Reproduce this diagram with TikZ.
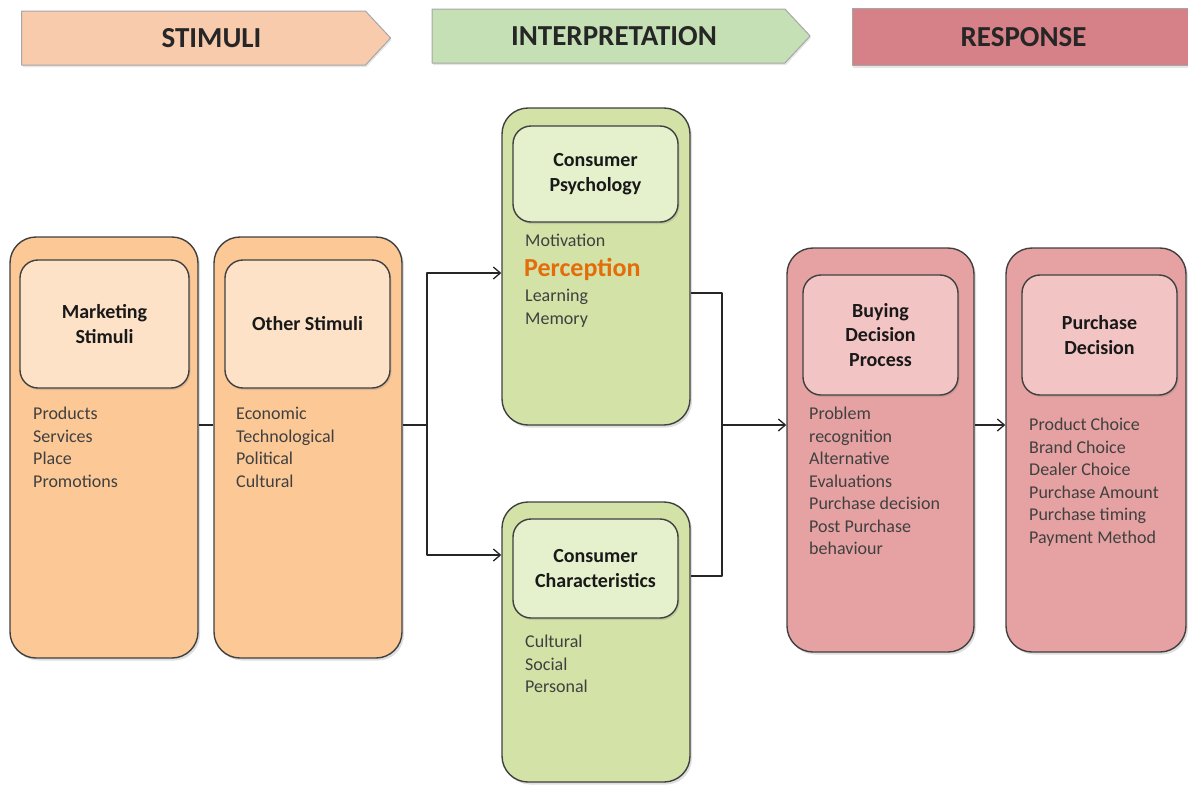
\documentclass[tikz,border=0pt]{standalone}
\usepackage{fontspec}
\setmainfont{Carlito}
\usetikzlibrary{shapes.symbols,arrows.meta,shadows}

\definecolor{stimhead}{HTML}{F8CBAD}
\definecolor{interphead}{HTML}{C5E0B4}
\definecolor{resphead}{HTML}{D68087}
\definecolor{stimout}{HTML}{FCC996}
\definecolor{stimin}{HTML}{FDE2C8}
\definecolor{interpout}{HTML}{D3E2A6}
\definecolor{interpin}{HTML}{E5F0CD}
\definecolor{respout}{HTML}{E6A2A2}
\definecolor{respin}{HTML}{F3C4C4}
\definecolor{focus}{HTML}{E46C0A}

\tikzset{
  headarrow/.style={signal, signal to=east, signal pointer angle=94, draw=gray!70, line width=1pt,
    minimum height=54pt, inner sep=0pt, font=\fontsize{29}{31}\selectfont\bfseries, text=black!85,
    drop shadow={opacity=0.2, shadow xshift=1pt, shadow yshift=-2pt}},
  outerbox/.style={draw=black!75, line width=1.4pt, rounded corners=26pt, inner sep=0pt,
    drop shadow={opacity=0.25, shadow xshift=2pt, shadow yshift=-2.5pt}},
  innerbox/.style={draw=black!75, line width=1.4pt, rounded corners=18pt, inner sep=0pt, align=center,
    font=\fontsize{20}{24.5}\selectfont\bfseries, text=black!90,
    drop shadow={opacity=0.25, shadow xshift=1.5pt, shadow yshift=-2pt}},
  itemlist/.style={anchor=north west, align=left, inner sep=0pt, font=\fontsize{18}{22.5}\selectfont, text=black!75},
  link/.style={draw=black!85, line width=1.3pt},
}

\begin{document}
\begin{tikzpicture}[x=1pt, y=-1pt, >={Straight Barb[length=7pt,width=12pt]}, line join=round]
  \useasboundingbox (0,0) rectangle (1188,785);
  % header arrows
  \node[headarrow, fill=stimhead, minimum width=369pt] (stimhead) at (193.5,38) {\hspace*{36pt}STIMULI};
  \node[headarrow, fill=interphead, minimum width=378pt] (interphead) at (608.5,36) {\hspace*{11pt}INTERPRETATION};
  \node[draw=gray!70, line width=1pt, fill=resphead, minimum width=343pt, minimum height=57pt,
    inner sep=0pt, font=\fontsize{29}{31}\selectfont\bfseries, text=black!85,
    drop shadow={opacity=0.2, shadow xshift=1pt, shadow yshift=-2pt}] (resphead) at (1023.5,37) {RESPONSE};

  % helper points for the connectors
  \coordinate (mid) at (0,425);
  \coordinate (splitL) at (427,425);
  \coordinate (joinR) at (722,425);

  % stimuli
  \node[outerbox, fill=stimout, minimum width=188pt, minimum height=421pt] (ms) at (104,447.5) {};
  \node[outerbox, fill=stimout, minimum width=188pt, minimum height=421pt] (os) at (308,447.5) {};
  \node[innerbox, fill=stimin, minimum width=169pt, minimum height=128pt] (msi) at (104.5,324) {Marketing\\Stimuli};
  \node[innerbox, fill=stimin, minimum width=165pt, minimum height=128pt] (osi) at (307.5,324) {Other Stimuli};
  \node[itemlist] (mslist) at (33,407) {Products\\Services\\Place\\Promotions};
  \node[itemlist] (oslist) at (236,407) {Economic\\Technological\\Political\\Cultural};

  % interpretation
  \node[outerbox, fill=interpout, minimum width=188pt, minimum height=317pt] (cp) at (596,266.5) {};
  \node[outerbox, fill=interpout, minimum width=188pt, minimum height=280pt] (cc) at (596,642) {};
  \node[innerbox, fill=interpin, minimum width=165pt, minimum height=96pt] (cpi) at (595.5,174) {Consumer\\Psychology};
  \node[innerbox, fill=interpin, minimum width=165pt, minimum height=99pt] (cci) at (595.5,568.5) {Consumer\\Characteristics};
  \node[itemlist] (cplist) at (525,234) {Motivation};
  \node[itemlist, font=\fontsize{26}{28}\selectfont\bfseries, text=focus] (cpfocus) at (524,258) {Perception};
  \node[itemlist] (cplist2) at (525,289) {Learning\\Memory};
  \node[itemlist] (cclist) at (525,635) {Cultural\\Social\\Personal};

  % response
  \node[outerbox, fill=respout, minimum width=187pt, minimum height=404pt] (bd) at (880.5,450) {};
  \node[outerbox, fill=respout, minimum width=180pt, minimum height=404pt] (pd) at (1096,450) {};
  \node[innerbox, fill=respin, minimum width=155pt, minimum height=120pt] (bdi) at (880.5,335) {Buying\\Decision\\Process};
  \node[innerbox, fill=respin, minimum width=155pt, minimum height=120pt] (pdi) at (1099.5,335) {Purchase\\Decision};
  \node[itemlist] (bdlist) at (809,407) {Problem\\recognition\\Alternative\\Evaluations\\Purchase decision\\Post Purchase\\behaviour};
  \node[itemlist] (pdlist) at (1029,418) {Product Choice\\Brand Choice\\Dealer Choice\\Purchase Amount\\Purchase timing\\Payment Method};

  % connectors
  \draw[link] (ms.east |- mid) -- (os.west |- mid);
  \draw[link] (os.east |- mid) -- (splitL);
  \draw[link, ->] (splitL) |- ([yshift=-6.5pt]cp.west);
  \draw[link, ->] (splitL) |- ([yshift=87pt]cc.west);
  \draw[link] ([yshift=-26.5pt]cp.east) -| (joinR) |- ([yshift=66pt]cc.east);
  \draw[link, ->] (joinR) -- (bd.west |- mid);
  \draw[link, ->] (bd.east |- mid) -- (pd.west |- mid);
\end{tikzpicture}
\end{document}
